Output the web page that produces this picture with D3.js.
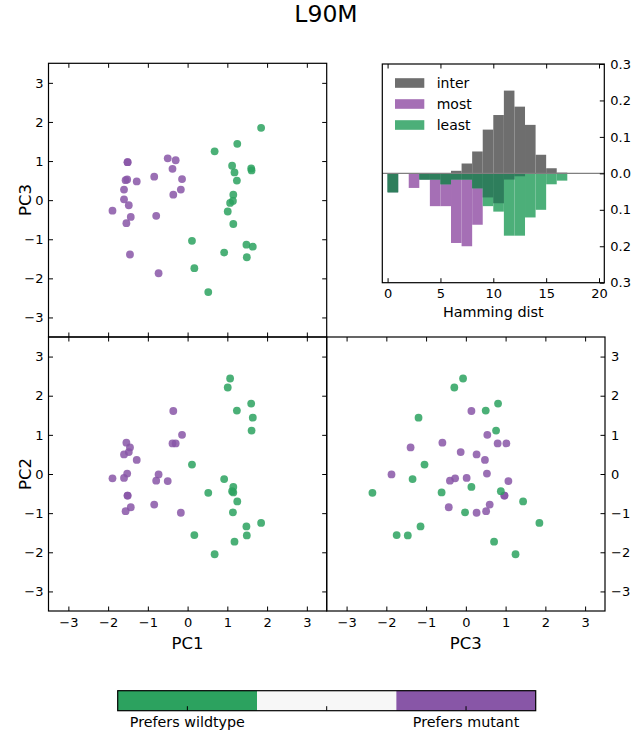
<!DOCTYPE html>
<html><head><meta charset="utf-8">
<script src="https://cdn.jsdelivr.net/npm/d3@7"></script>
<style>body{margin:0;background:#fff} text{font-family:"DejaVu Sans",sans-serif}</style>
</head><body>
<svg id="c" width="633" height="731"></svg>
<script>
// ---------- data ----------
const titleText = "L90M";
const pcTicks = [-3, -2, -1, 0, 1, 2, 3];
// points preferring the mutant (purple)
const mutantPC1 = [-0.36,-0.14,-0.38,-0.30,-1.54,-1.45,-1.48,-1.60,-1.28,-1.52,-0.73,-1.89,-1.60,-0.79,-0.50,-1.51,-1.51,-1.43,-1.56,-0.84,-0.17];
const mutantPC2 = [1.61,1.00,0.78,0.78,0.80,0.68,0.56,0.50,0.36,0.01,-0.01,-0.11,-0.10,-0.17,-0.18,-0.55,-0.55,-0.85,-0.95,-0.78,-0.99];
const mutantPC3 = [0.14,0.54,0.80,1.02,-0.59,-1.39,-0.13,0.27,0.48,0.53,-1.87,-0.27,0.02,-0.40,1.07,0.97,0.97,-0.43,0.51,0.60,0.27];
// points preferring the wildtype (green)
const wildPC1 = [1.85,1.25,0.68,1.12,1.18,1.60,1.61,1.24,1.15,1.14,1.07,1.01,1.15,0.11,1.48,1.64,0.92,1.49,0.17,0.52];
const wildPC2 = [-1.25,-0.70,-2.05,-0.44,-1.73,1.80,1.11,1.62,-0.33,-0.98,2.44,2.21,-0.47,0.24,-1.34,1.44,-0.13,-1.57,-1.56,-0.48];
const wildPC3 = [1.85,1.44,1.25,0.88,0.71,0.81,0.76,0.50,0.14,-0.02,-0.07,-0.29,-0.61,-1.04,-1.14,-1.19,-1.34,-1.46,-1.74,-2.35];
// Hamming distance histograms (bins [i, i+1))
const hammingBins = d3.range(0, 20);
const interFreq = [0,0,0,0,0,0,0.007,0.027,0.060,0.120,0.160,0.227,0.183,0.133,0.051,0.014,0.002,0.001,0,0];
const mostFreq  = [0.052,0,0.040,0.017,0.090,0.090,0.191,0.200,0.141,0.066,0.082,0.017,0.008,0,0,0,0,0,0,0];
const leastFreq = [0.052,0,0,0.017,0.017,0.030,0.017,0.017,0.041,0.090,0.105,0.171,0.171,0.121,0.100,0.030,0.020,0,0,0];
const histXTicks = [0, 5, 10, 15, 20];
const histYTicks = [-0.3, -0.2, -0.1, 0, 0.1, 0.2, 0.3];
const legendLabels = ["inter", "most", "least"];
const colorbarLabels = ["Prefers wildtype", "", "Prefers mutant"];

// ---------- styles ----------
const GREEN = "#2ca25f", PURPLE = "#8856a7", MID = "#f7f7f7";
const C_INTER = "#6e6e6e", C_MOST = "#a56fb5", C_LEAST = "#4caf79", C_OVER = "#2e7e5c";
const TICK = 4.5, TICKFONT = 13;

const svg = d3.select("#c");

svg.append("text").attr("x", 326).attr("y", 22).attr("text-anchor", "middle")
  .attr("font-size", 23.5).text(titleText);

const mutant = mutantPC1.map((d, i) => ({pc1: d, pc2: mutantPC2[i], pc3: mutantPC3[i], c: PURPLE}));
const wild = wildPC1.map((d, i) => ({pc1: d, pc2: wildPC2[i], pc3: wildPC3[i], c: GREEN}));
const pts = mutant.concat(wild);

function frame(x, y, sides, labels, fmt) {
  const g = svg.append("g");
  const [x0, x1] = x.range(), [y0, y1] = y.range();
  const L = Math.min(x0, x1), R = Math.max(x0, x1), T = Math.min(y0, y1), B = Math.max(y0, y1);
  const xt = x.tickValuesArr, yt = y.tickValuesArr;
  function style(a) {
    a.select(".domain").remove();
    a.selectAll("line").attr("stroke", "#000").attr("stroke-width", 1);
    a.selectAll("text").attr("font-size", TICKFONT).attr("fill", "#000").attr("font-family", "DejaVu Sans");
  }
  if (sides.bottom) {
    const a = g.append("g").attr("transform", `translate(0,${B})`)
      .call(d3.axisBottom(x).tickValues(xt).tickSizeInner(-TICK).tickSizeOuter(0).tickPadding(6.5)
        .tickFormat(labels.bottom ? (fmt.x || d3.format("d")) : ""));
    style(a);
  }
  if (sides.top) {
    const a = g.append("g").attr("transform", `translate(0,${T})`)
      .call(d3.axisTop(x).tickValues(xt).tickSizeInner(-TICK).tickSizeOuter(0).tickFormat(""));
    style(a);
  }
  if (sides.left) {
    const a = g.append("g").attr("transform", `translate(${L},0)`)
      .call(d3.axisLeft(y).tickValues(yt).tickSizeInner(-TICK).tickSizeOuter(0).tickPadding(5)
        .tickFormat(labels.left ? (fmt.y || d3.format("d")) : ""));
    style(a);
  }
  if (sides.right) {
    const a = g.append("g").attr("transform", `translate(${R},0)`)
      .call(d3.axisRight(y).tickValues(yt).tickSizeInner(-TICK).tickSizeOuter(0).tickPadding(6)
        .tickFormat(labels.right ? (fmt.y || d3.format("d")) : ""));
    style(a);
  }
  g.append("rect").attr("x", L).attr("y", T).attr("width", R - L).attr("height", B - T)
    .attr("fill", "none").attr("stroke", "#000").attr("stroke-width", 1.2);
  return g;
}

function scatter(x, y, fx, fy) {
  const g = svg.append("g");
  g.selectAll("circle").data(pts).join("circle")
    .attr("cx", d => x(d[fx])).attr("cy", d => y(d[fy])).attr("r", 3.9)
    .attr("fill", d => d.c).attr("fill-opacity", 0.85);
}

const xL = d3.scaleLinear([-3.5, 3.5], [48.5, 326.7]);
const xR = d3.scaleLinear([-3.5, 3.5], [326.7, 605]);
const yT = d3.scaleLinear([-3.5, 3.5], [337, 63.3]);
const yB = d3.scaleLinear([-3.5, 3.5], [611, 337]);
[xL, xR, yT, yB].forEach(s => s.tickValuesArr = pcTicks);

// top-left: PC1 vs PC3
scatter(xL, yT, "pc1", "pc3");
frame(xL, yT, {top:1, bottom:1, left:1, right:1}, {left:1}, {});
// bottom-left: PC1 vs PC2
scatter(xL, yB, "pc1", "pc2");
frame(xL, yB, {top:1, bottom:1, left:1, right:1}, {left:1, bottom:1}, {});
// bottom-right: PC3 vs PC2
scatter(xR, yB, "pc3", "pc2");
frame(xR, yB, {top:1, bottom:1, right:1}, {bottom:1, right:1}, {});

// axis labels
svg.append("text").attr("transform", "translate(31,200) rotate(-90)").attr("text-anchor", "middle")
  .attr("font-size", 16.5).text("PC3");
svg.append("text").attr("transform", "translate(31,474) rotate(-90)").attr("text-anchor", "middle")
  .attr("font-size", 16.5).text("PC2");
svg.append("text").attr("x", xL(0)).attr("y", 649).attr("text-anchor", "middle").attr("font-size", 16.5).text("PC1");
svg.append("text").attr("x", xR(0)).attr("y", 649).attr("text-anchor", "middle").attr("font-size", 16.5).text("PC3");

// ---------- histogram ----------
const hx = d3.scaleLinear([-0.5, 20.5], [382.3, 604.3]);
const hy = d3.scaleLinear([-0.3, 0.3], [282.7, 64]);
hx.tickValuesArr = histXTicks; hy.tickValuesArr = histYTicks;
const hg = svg.append("g");
hg.selectAll("rect.inter").data(hammingBins).join("rect").attr("class", "inter")
  .attr("x", b => hx(b)).attr("width", b => hx(b + 1) - hx(b))
  .attr("y", b => hy(interFreq[b])).attr("height", b => hy(0) - hy(interFreq[b]))
  .attr("fill", C_INTER);
hg.selectAll("rect.most").data(hammingBins).join("rect").attr("class", "most")
  .attr("x", b => hx(b)).attr("width", b => hx(b + 1) - hx(b))
  .attr("y", hy(0)).attr("height", b => hy(-mostFreq[b]) - hy(0))
  .attr("fill", C_MOST);
hg.selectAll("rect.least").data(hammingBins).join("rect").attr("class", "least")
  .attr("x", b => hx(b)).attr("width", b => hx(b + 1) - hx(b))
  .attr("y", hy(0)).attr("height", b => hy(-leastFreq[b]) - hy(0))
  .attr("fill", C_LEAST);
hg.selectAll("rect.over").data(hammingBins).join("rect").attr("class", "over")
  .attr("x", b => hx(b)).attr("width", b => hx(b + 1) - hx(b))
  .attr("y", hy(0)).attr("height", b => hy(-Math.min(mostFreq[b], leastFreq[b])) - hy(0))
  .attr("fill", C_OVER);
hg.append("line").attr("x1", hx(-0.5)).attr("x2", hx(20.5)).attr("y1", hy(0)).attr("y2", hy(0))
  .attr("stroke", "#808080").attr("stroke-width", 1.2);
frame(hx, hy, {top:1, bottom:1, right:1}, {bottom:1, right:1}, {x: d3.format("d"), y: d => d3.format(".1f")(Math.abs(d))});
svg.append("text").attr("x", hx(10)).attr("y", 317).attr("text-anchor", "middle").attr("font-size", 14.4).text("Hamming dist");

// legend
const legColors = [C_INTER, C_MOST, C_LEAST];
legendLabels.forEach((l, i) => {
  const cy = 83 + i * 21;
  svg.append("rect").attr("x", 395).attr("y", cy - 4.8).attr("width", 29.3).attr("height", 9.6).attr("fill", legColors[i]);
  svg.append("text").attr("x", 436.7).attr("y", cy + 5).attr("font-size", 14).text(l);
});

// ---------- colorbar ----------
const cbColors = [GREEN, MID, PURPLE];
const cb = d3.scaleBand().domain(d3.range(3)).range([117.7, 535.7]);
svg.selectAll("rect.cb").data(d3.range(3)).join("rect").attr("class", "cb")
  .attr("x", i => cb(i)).attr("width", cb.bandwidth()).attr("y", 690.7).attr("height", 20)
  .attr("fill", i => cbColors[i]);
svg.selectAll("line.cbt").data(d3.range(3)).join("line").attr("class", "cbt")
  .attr("x1", i => cb(i) + cb.bandwidth() / 2).attr("x2", i => cb(i) + cb.bandwidth() / 2)
  .attr("y1", 710.7).attr("y2", 706.2).attr("stroke", "#000").attr("stroke-width", 1);
svg.append("rect").attr("x", 117.7).attr("y", 690.7).attr("width", 418).attr("height", 20)
  .attr("fill", "none").attr("stroke", "#000").attr("stroke-width", 1.2);
svg.selectAll("text.cbl").data(d3.range(3)).join("text").attr("class", "cbl")
  .attr("x", i => cb(i) + cb.bandwidth() / 2).attr("y", 727).attr("text-anchor", "middle")
  .attr("font-size", 14.3).text(i => colorbarLabels[i]);
</script>
</body></html>
